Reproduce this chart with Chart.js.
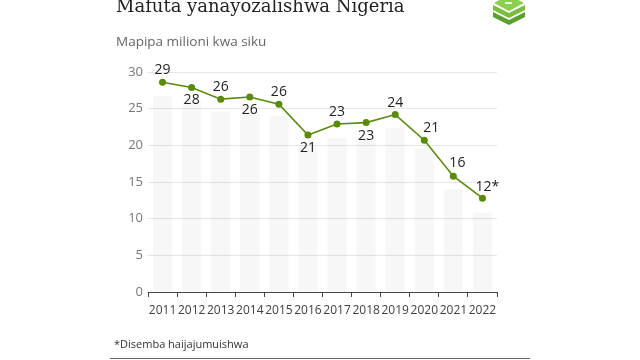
<!DOCTYPE html>
<html>
<head>
<meta charset="utf-8">
<script src="https://cdn.jsdelivr.net/npm/chart.js@4/dist/chart.umd.min.js"></script>
<style>
  html, body { margin: 0; padding: 0; background: #fff; }
  #wrap { position: relative; width: 640px; height: 360px; overflow: hidden; }
  #chart { position: absolute; left: 0; top: 0; }
  .title { position: absolute; left: 116px; top: -5px; font-family: "DejaVu Serif", serif; font-size: 18px; color: #222; white-space: nowrap; }
  .subtitle { position: absolute; left: 116px; top: 32px; font-family: "Open Sans", sans-serif; font-size: 13.5px; color: #666; white-space: nowrap; }
  .note { position: absolute; left: 114px; top: 336px; font-family: "Open Sans", sans-serif; font-size: 11px; color: #333; white-space: nowrap; }
  .rule { position: absolute; left: 110px; top: 358px; width: 420px; height: 1px; background: #666; }
</style>
</head>
<body>
<div id="wrap">
  <canvas id="chart" width="640" height="360"></canvas>
  <div class="title">Mafuta yanayozalishwa Nigeria</div>
  <div class="subtitle">Mapipa milioni kwa siku</div>
  <div class="note">*Disemba haijajumuishwa</div>
  <div class="rule"></div>
</div>
<script>
  const years = ["2011", "2012", "2013", "2014", "2015", "2016", "2017", "2018", "2019", "2020", "2021", "2022"];
  const production = [28.6, 27.9, 26.3, 26.6, 25.6, 21.4, 22.9, 23.1, 24.2, 20.7, 15.8, 12.8];
  const valueLabels = ["29", "28", "26", "26", "26", "21", "23", "23", "24", "21", "16", "12*"];
  const backdrop = [26.7, 26.0, 24.6, 24.3, 24.0, 20.0, 21.0, 21.0, 22.4, 19.5, 14.0, 10.8];
  const yTicks = [0, 5, 10, 15, 20, 25, 30];

  const green = "#5a8a0c";

  // where each value label sits relative to its point: [dx, dy]
  const labelOffsets = [
    [0, -12], [0, 13], [0, -12], [0, 13], [0, -12], [0, 13],
    [0, -12], [0, 13], [0, -12], [7, -12], [4, -13], [5, -11]
  ];

  const valueLabelPlugin = {
    id: "valueLabels",
    afterDatasetsDraw(chart) {
      const ctx = chart.ctx;
      const meta = chart.getDatasetMeta(1);
      ctx.save();
      ctx.font = "14px 'Open Sans', sans-serif";
      ctx.fillStyle = "#222";
      ctx.textAlign = "center";
      ctx.textBaseline = "middle";
      meta.data.forEach((pt, i) => {
        const off = labelOffsets[i];
        ctx.fillText(valueLabels[i], pt.x + off[0], pt.y + off[1]);
      });
      ctx.restore();
    }
  };

  const logoPlugin = {
    id: "logo",
    afterDraw(chart) {
      const ctx = chart.ctx;
      ctx.save();
      const chevron = (y, color) => {
        ctx.fillStyle = color;
        ctx.beginPath();
        ctx.moveTo(493, y);
        ctx.lineTo(509, y + 8);
        ctx.lineTo(525, y);
        ctx.lineTo(525, y + 5);
        ctx.lineTo(509, y + 13);
        ctx.lineTo(493, y + 5);
        ctx.closePath();
        ctx.fill();
      };
      chevron(12, "#5aa02c");
      chevron(5, "#78be3c");
      ctx.fillStyle = "#8ccf4e";
      ctx.beginPath();
      ctx.moveTo(494, 3);
      ctx.lineTo(509, -5);
      ctx.lineTo(524, 3);
      ctx.lineTo(509, 11);
      ctx.closePath();
      ctx.fill();
      ctx.fillStyle = "#e8f4dc";
      ctx.fillRect(505, 2, 7, 2);
      ctx.restore();
    }
  };

  new Chart(document.getElementById("chart"), {
    data: {
      labels: years,
      datasets: [
        {
          type: "bar",
          data: backdrop,
          backgroundColor: "rgba(0, 0, 0, 0.03)",
          barPercentage: 0.66,
          categoryPercentage: 1,
          order: 2
        },
        {
          type: "line",
          data: production,
          borderColor: green,
          backgroundColor: green,
          borderWidth: 1.6,
          pointRadius: 3.5,
          pointBackgroundColor: green,
          pointBorderWidth: 0,
          tension: 0,
          order: 1
        }
      ]
    },
    options: {
      responsive: false,
      animation: false,
      layout: { padding: { left: 108, right: 143, top: 72, bottom: 40 } },
      plugins: {
        legend: { display: false },
        tooltip: { enabled: false }
      },
      scales: {
        x: {
          offset: true,
          grid: {
            offset: true,
            drawOnChartArea: false,
            drawTicks: true,
            tickLength: 5,
            tickColor: "#444"
          },
          border: { display: true, color: "#444", width: 1 },
          ticks: {
            color: "#404040",
            font: { family: "'Open Sans', sans-serif", size: 12 },
            padding: 6,
            maxRotation: 0,
            autoSkip: false
          },
          afterFit(scale) { scale.height = 28; }
        },
        y: {
          min: 0,
          max: 30,
          afterBuildTicks(scale) { scale.ticks = yTicks.map(v => ({ value: v })); },
          grid: { color: "#e6e6e6", drawTicks: false },
          border: { display: false },
          ticks: {
            color: "#777",
            font: { family: "'Open Sans', sans-serif", size: 13 },
            padding: 5
          },
          afterFit(scale) { scale.width = 40; }
        }
      }
    },
    plugins: [valueLabelPlugin, logoPlugin]
  });
</script>
</body>
</html>
